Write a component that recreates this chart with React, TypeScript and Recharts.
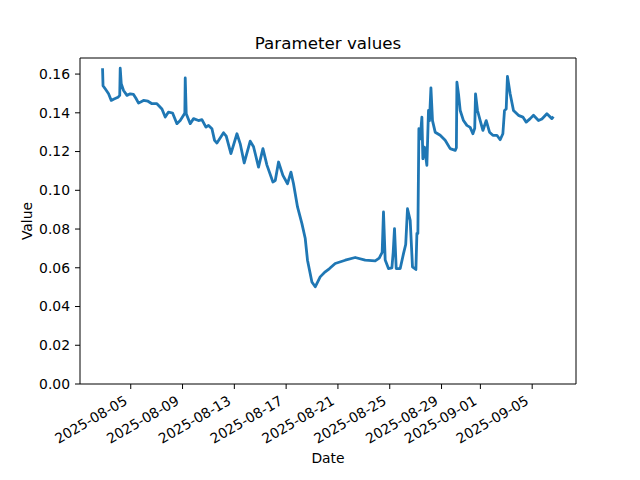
import { LineChart, Line, XAxis, YAxis, ReferenceArea } from "recharts";

// (UTC timestamps)
const times = [
  "2025-08-02T19:45", "2025-08-02T20:40", "2025-08-03T00:40", "2025-08-03T06:55",
  "2025-08-03T11:55", "2025-08-03T16:05", "2025-08-04T00:20", "2025-08-04T03:35",
  "2025-08-04T04:30", "2025-08-04T06:25", "2025-08-04T10:40", "2025-08-04T17:00",
  "2025-08-04T23:05", "2025-08-05T05:10", "2025-08-05T09:35", "2025-08-05T14:30",
  "2025-08-05T23:40", "2025-08-06T07:55", "2025-08-06T15:20", "2025-08-07T00:30",
  "2025-08-07T09:50", "2025-08-07T15:55", "2025-08-07T22:00", "2025-08-08T05:30",
  "2025-08-08T13:35", "2025-08-08T19:40", "2025-08-09T01:50", "2025-08-09T04:15",
  "2025-08-09T05:00", "2025-08-09T06:50", "2025-08-09T14:15", "2025-08-09T20:25",
  "2025-08-10T05:35", "2025-08-10T11:55", "2025-08-10T19:20", "2025-08-11T00:10",
  "2025-08-11T06:30", "2025-08-11T11:20", "2025-08-11T15:45", "2025-08-12T04:00",
  "2025-08-12T09:00", "2025-08-12T17:40", "2025-08-13T04:50", "2025-08-13T10:55",
  "2025-08-13T18:20", "2025-08-14T05:25", "2025-08-14T11:35", "2025-08-14T20:50",
  "2025-08-15T05:00", "2025-08-15T12:25", "2025-08-15T23:30", "2025-08-16T03:50",
  "2025-08-16T09:55", "2025-08-16T18:00", "2025-08-17T02:35", "2025-08-17T08:55",
  "2025-08-17T13:40", "2025-08-17T21:05", "2025-08-18T05:15", "2025-08-18T11:25",
  "2025-08-18T15:35", "2025-08-18T23:45", "2025-08-19T05:55", "2025-08-19T15:05",
  "2025-08-20T00:25", "2025-08-20T08:25", "2025-08-20T18:55", "2025-08-21T13:30",
  "2025-08-22T08:00", "2025-08-23T02:30", "2025-08-23T21:05", "2025-08-24T04:30",
  "2025-08-24T10:00", "2025-08-24T12:25", "2025-08-24T15:35", "2025-08-24T21:40",
  "2025-08-25T04:00", "2025-08-25T06:25", "2025-08-25T08:50", "2025-08-25T12:00",
  "2025-08-25T19:25", "2025-08-26T01:30", "2025-08-26T05:35", "2025-08-26T08:55",
  "2025-08-26T13:55", "2025-08-26T18:10", "2025-08-27T00:30", "2025-08-27T02:20",
  "2025-08-27T04:10", "2025-08-27T06:00", "2025-08-27T08:25", "2025-08-27T11:35",
  "2025-08-27T13:25", "2025-08-27T16:25", "2025-08-27T20:50", "2025-08-27T23:50",
  "2025-08-28T01:40", "2025-08-28T04:20", "2025-08-28T07:15", "2025-08-28T12:15",
  "2025-08-28T21:30", "2025-08-29T06:45", "2025-08-29T16:00", "2025-08-30T01:20",
  "2025-08-30T03:30", "2025-08-30T04:30", "2025-08-30T07:25", "2025-08-30T10:35",
  "2025-08-30T16:40", "2025-08-30T23:00", "2025-08-31T05:05", "2025-08-31T10:05",
  "2025-08-31T13:30", "2025-08-31T15:00", "2025-08-31T18:40", "2025-08-31T23:40",
  "2025-09-01T04:40", "2025-09-01T10:50", "2025-09-01T16:55", "2025-09-01T23:10",
  "2025-09-02T06:35", "2025-09-02T12:40", "2025-09-02T17:40", "2025-09-02T20:40",
  "2025-09-02T23:50", "2025-09-03T02:10", "2025-09-03T07:10", "2025-09-03T13:20",
  "2025-09-03T22:35", "2025-09-04T06:45", "2025-09-04T12:55", "2025-09-04T20:20",
  "2025-09-05T02:25", "2025-09-05T11:40", "2025-09-05T18:00", "2025-09-06T03:15",
  "2025-09-06T12:30", "2025-09-06T15:25",
];

const values = [
  0.163, 0.154, 0.1524, 0.1498,
  0.1464, 0.147, 0.148, 0.149,
  0.163, 0.155, 0.1515, 0.149,
  0.1498, 0.1495, 0.1475, 0.145,
  0.1464, 0.146, 0.1447, 0.1447,
  0.142, 0.1378, 0.1404, 0.1399,
  0.1344, 0.136, 0.1387, 0.14,
  0.158, 0.1395, 0.1344, 0.137,
  0.136, 0.1365, 0.1326, 0.1335,
  0.1318, 0.1258, 0.1244, 0.1297,
  0.128, 0.1189, 0.1292, 0.124,
  0.1141, 0.1254, 0.1225, 0.112,
  0.1215, 0.113, 0.1043, 0.105,
  0.1146, 0.1077, 0.1034, 0.1094,
  0.1034, 0.0914, 0.0828, 0.0751,
  0.0639, 0.0527, 0.0502, 0.0553,
  0.0579, 0.0596, 0.0622, 0.0639,
  0.0653, 0.0639, 0.0636, 0.065,
  0.068, 0.0888, 0.064, 0.0596,
  0.06, 0.068, 0.0802, 0.0596,
  0.0596, 0.0673, 0.072, 0.0905,
  0.0845, 0.0605, 0.0591, 0.0777,
  0.0777, 0.1318, 0.1266, 0.1378,
  0.1163, 0.1223, 0.1129, 0.1412,
  0.136, 0.1529, 0.136, 0.13,
  0.1284, 0.1258, 0.1215, 0.1206,
  0.122, 0.1558, 0.1498, 0.1412,
  0.136, 0.1335, 0.1325, 0.1292,
  0.132, 0.1498, 0.1412, 0.136,
  0.1309, 0.136, 0.13, 0.1284,
  0.1284, 0.1261, 0.1292, 0.1412,
  0.142, 0.1588, 0.1498, 0.1412,
  0.1387, 0.1378, 0.1352, 0.137,
  0.1387, 0.136, 0.1368, 0.1395,
  0.137, 0.138,
];

const xTickLabels = [
  "2025-08-05", "2025-08-09", "2025-08-13", "2025-08-17", "2025-08-21",
  "2025-08-25", "2025-08-29", "2025-09-01", "2025-09-05",
];
const yTicks = [0, 0.02, 0.04, 0.06, 0.08, 0.1, 0.12, 0.14, 0.16];

const FONT = "DejaVu Sans";
const toMs = (s: string) => Date.parse(s + ":00Z");

const data = times.map((t, i) => ({ t: toMs(t), v: values[i] }));
const xTicks = xTickLabels.map((d) => toMs(d + "T00:00"));
const t0 = data[0].t;
const t1 = data[data.length - 1].t;
const pad = (t1 - t0) * 0.05;
const xDomain: [number, number] = [t0 - pad, t1 + pad];
const yDomain: [number, number] = [0, 0.1683];

function XTick({ x, y, payload }: any) {
  const d = new Date(payload.value).toISOString().slice(0, 10);
  return (
    <text
      transform={`translate(${x - 8},${y}) rotate(-30)`}
      textAnchor="end"
      dy="0.8em"
      fontSize={13.9}
      fontFamily={FONT}
      fill="#000"
    >
      {d}
    </text>
  );
}

function YTick({ x, y, payload }: any) {
  return (
    <text
      x={x}
      y={y}
      textAnchor="end"
      dy="0.35em"
      fontSize={13.9}
      fontFamily={FONT}
      fill="#000"
    >
      {payload.value.toFixed(2)}
    </text>
  );
}

export default function App() {
  return (
    <div style={{ position: "absolute", left: 0, top: 0, width: 640, height: 480, background: "#fff" }}>
      <LineChart
        width={640}
        height={480}
        data={data}
        margin={{ top: 58, right: 64, bottom: 0, left: 0 }}
      >
        <XAxis
          dataKey="t"
          type="number"
          domain={xDomain}
          ticks={xTicks}
          allowDataOverflow
          height={96}
          axisLine={false}
          tickLine={{ stroke: "#000" }}
          tickSize={5}
          tickMargin={5}
          tick={<XTick />}
          interval={0}
        />
        <YAxis
          type="number"
          domain={yDomain}
          ticks={yTicks}
          allowDataOverflow
          width={80}
          axisLine={false}
          tickLine={{ stroke: "#000" }}
          tickSize={5}
          tickMargin={5}
          tick={<YTick />}
          interval={0}
        />
        <ReferenceArea
          x1={xDomain[0]}
          x2={xDomain[1]}
          y1={yDomain[0]}
          y2={yDomain[1]}
          fill="none"
          stroke="#000"
          strokeWidth={1}
          fillOpacity={0}
        />
        <Line
          type="linear"
          dataKey="v"
          stroke="#1f77b4"
          strokeWidth={2.8}
          strokeLinejoin="round"
          dot={false}
          activeDot={false}
          isAnimationActive={false}
        />
      </LineChart>
      <svg
        width={640}
        height={480}
        style={{ position: "absolute", left: 0, top: 0, pointerEvents: "none" }}
      >
        <text x={328} y={49} textAnchor="middle" fontSize={16.7} fontFamily={FONT} fill="#000">
          Parameter values
        </text>
        <text x={328} y={463} textAnchor="middle" fontSize={13.9} fontFamily={FONT} fill="#000">
          Date
        </text>
        <text
          transform="translate(32,221) rotate(-90)"
          textAnchor="middle"
          fontSize={13.9}
          fontFamily={FONT}
          fill="#000"
        >
          Value
        </text>
      </svg>
    </div>
  );
}
